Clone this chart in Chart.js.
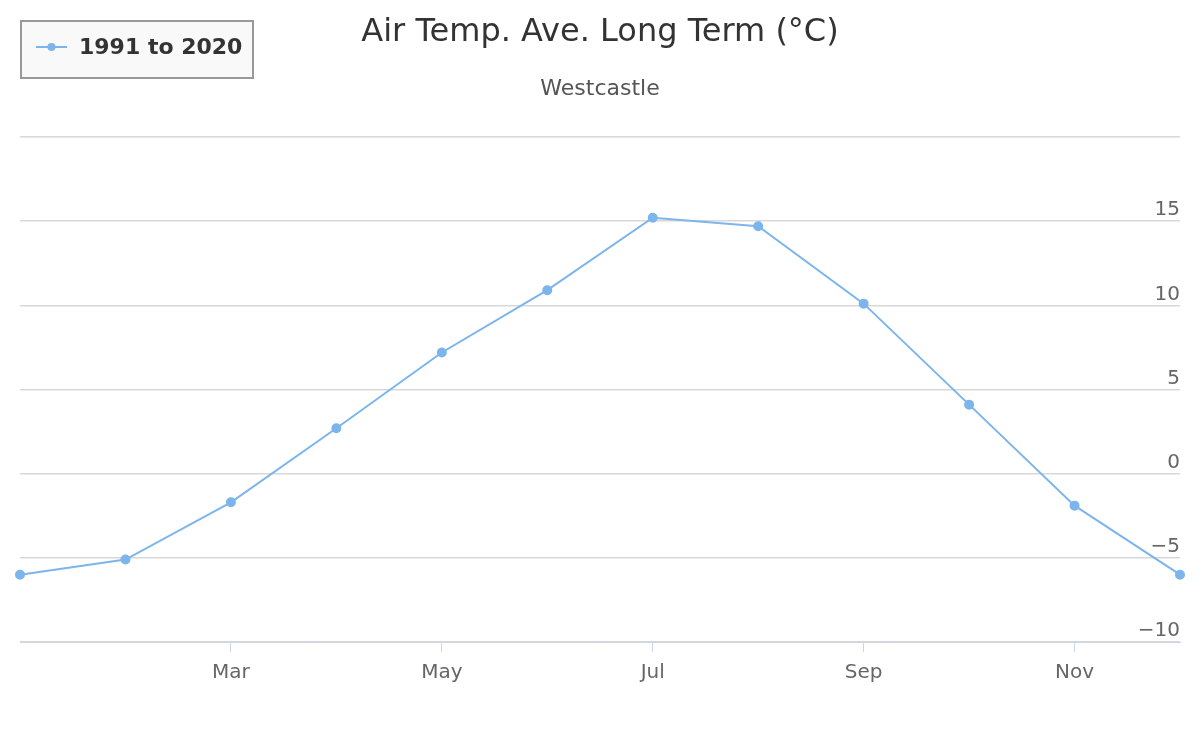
<!DOCTYPE html>
<html>
<head>
<meta charset="utf-8">
<script src="https://cdn.jsdelivr.net/npm/chart.js@4"></script>
<style>
    html, body { margin: 0; padding: 0; background: #fff; }
    #wrap { width: 1200px; height: 733px; position: relative; }
</style>
</head>
<body>
<div id="wrap"><canvas id="tempChart"></canvas></div>
<script>
const months = ['Jan', 'Feb', 'Mar', 'Apr', 'May', 'Jun', 'Jul', 'Aug', 'Sep', 'Oct', 'Nov', 'Dec'];
const avgTemp = [-6.0, -5.1, -1.7, 2.7, 7.2, 10.9, 15.2, 14.7, 10.1, 4.1, -1.9, -6.0];
const shownMonths = ['Mar', 'May', 'Jul', 'Sep', 'Nov'];
const seriesName = '1991 to 2020';
const chartTitle = 'Air Temp. Ave. Long Term (°C)';
const chartSubtitle = 'Westcastle';

const FONT = '"DejaVu Sans", sans-serif';
const LINE_COLOR = '#7cb5ec';

// Title, subtitle and the boxed legend in the top left corner
const headerPlugin = {
    id: 'header',
    afterDraw(chart) {
        const ctx = chart.ctx;
        ctx.save();

        ctx.fillStyle = '#333333';
        ctx.textAlign = 'center';
        ctx.textBaseline = 'middle';
        ctx.font = '32px ' + FONT;
        ctx.fillText(chartTitle, 600, 33);
        ctx.fillStyle = '#555555';
        ctx.font = '22px ' + FONT;
        ctx.fillText(chartSubtitle, 600, 89);

        // legend box
        ctx.fillStyle = '#f9f9f9';
        ctx.fillRect(21, 21, 232, 57);
        ctx.strokeStyle = '#999999';
        ctx.lineWidth = 2;
        ctx.strokeRect(21, 21, 232, 57);

        ctx.strokeStyle = LINE_COLOR;
        ctx.lineWidth = 2;
        ctx.beginPath();
        ctx.moveTo(36, 47);
        ctx.lineTo(67, 47);
        ctx.stroke();
        ctx.fillStyle = LINE_COLOR;
        ctx.beginPath();
        ctx.arc(51.5, 47, 4, 0, Math.PI * 2);
        ctx.fill();

        ctx.fillStyle = '#333333';
        ctx.textAlign = 'left';
        ctx.font = 'bold 22px ' + FONT;
        ctx.fillText(seriesName, 79, 48);
        ctx.restore();
    }
};

const ctx = document.getElementById('tempChart').getContext('2d');
new Chart(ctx, {
    type: 'line',
    data: {
        labels: months,
        datasets: [{
            label: seriesName,
            data: avgTemp,
            borderColor: LINE_COLOR,
            backgroundColor: LINE_COLOR,
            borderWidth: 2,
            pointRadius: 4,
            pointHoverRadius: 5,
            tension: 0
        }]
    },
    options: {
        responsive: true,
        maintainAspectRatio: false,
        animation: false,
        layout: {
            padding: { top: 137, left: 20, right: 20, bottom: 39 }
        },
        plugins: {
            legend: { display: false },
            title: { display: false },
            tooltip: { enabled: false }
        },
        scales: {
            x: {
                offset: false,
                grid: {
                    drawOnChartArea: false,
                    drawTicks: true,
                    tickLength: 10,
                    tickColor: c => shownMonths.includes(months[c.index]) ? '#ccd6eb' : 'rgba(0,0,0,0)'
                },
                border: { color: '#ccd6eb', width: 1 },
                ticks: {
                    autoSkip: false,
                    maxRotation: 0,
                    padding: 9,
                    color: '#666666',
                    font: { family: FONT, size: 20 },
                    callback: function (value, index) {
                        const m = months[index];
                        return shownMonths.includes(m) ? m : '';
                    }
                }
            },
            y: {
                position: 'right',
                min: -10,
                max: 20,
                grid: {
                    color: '#d8d8d8',
                    lineWidth: 1.5,
                    drawTicks: false
                },
                border: { display: false },
                ticks: {
                    stepSize: 5,
                    mirror: true,
                    padding: 0,
                    labelOffset: -11,
                    color: '#666666',
                    font: { family: FONT, size: 20 },
                    callback: function (value) {
                        if (value === 20) return '';
                        return value < 0 ? '\u2212' + Math.abs(value) : String(value);
                    }
                }
            }
        }
    },
    plugins: [headerPlugin]
});
</script>
</body>
</html>
